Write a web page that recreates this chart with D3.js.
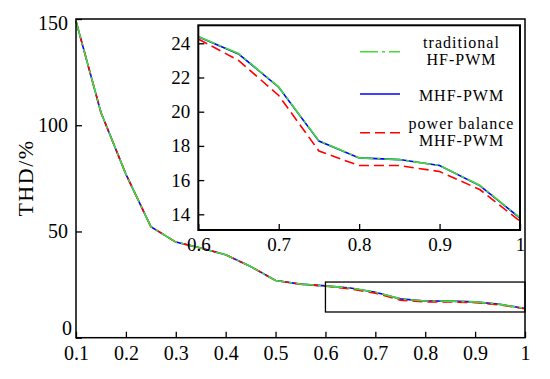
<!DOCTYPE html>
<html>
<head>
<meta charset="utf-8">
<script src="https://cdn.jsdelivr.net/npm/d3@7"></script>
<style>
  html, body { margin: 0; padding: 0; background: #fff; }
  svg { display: block; }
  svg text { font-family: "Liberation Serif", "Times New Roman", serif; }
</style>
</head>
<body>
<svg id="chart" width="550" height="379"></svg>
<script>
// ---- data ----
const modulationIndex = [0.1, 0.15, 0.2, 0.25, 0.3, 0.35, 0.4, 0.45, 0.5, 0.55, 0.6, 0.65, 0.7, 0.75, 0.8, 0.85, 0.9, 0.95, 1.0];
const traditionalHF = [149, 106, 77, 52.3, 45, 42.2, 39, 33.5, 26.9, 25.2, 24.4, 23.4, 21.45, 18.3, 17.3, 17.2, 16.85, 15.7, 13.8];
const mhf = [149, 106, 77, 52.3, 45, 42.2, 39, 33.5, 26.9, 25.2, 24.38, 23.38, 21.43, 18.28, 17.3, 17.2, 16.85, 15.68, 13.78];
const powerBalance = [149, 106, 77, 52.3, 45, 42.2, 39, 33.5, 26.9, 25.2, 24.25, 23.0, 20.95, 17.7, 16.85, 16.85, 16.5, 15.45, 13.6];
const mainXTicks = [0.1, 0.2, 0.3, 0.4, 0.5, 0.6, 0.7, 0.8, 0.9, 1];
const mainYTicks = [0, 50, 100, 150];
const insetXTicks = [0.6, 0.7, 0.8, 0.9, 1];
const insetYTicks = [14, 16, 18, 20, 22, 24];
const zoomBox = { x0: 0.6, x1: 1, y0: 12.1, y1: 26.2 };
const seriesNames = [["traditional", "HF-PWM"], ["MHF-PWM"], ["power balance", "MHF-PWM"]];

const FONT = '"Liberation Serif", "Times New Roman", serif';
const series = [
  { name: "mhf", values: mhf, color: "#0000ff", dash: null },
  { name: "pb", values: powerBalance, color: "#ff0000", dash: "10,5" },
  { name: "trad", values: traditionalHF, color: "#44dd33", dash: "18,4,3,4" }
];

const svg = d3.select("#chart");
const fmt = d => d === 1 ? "1" : d3.format(".1f")(d);

function styleAxis(a, size) {
  a.attr("font-family", null);
  a.select(".domain").remove();
  a.selectAll("line").attr("stroke", "#000").attr("stroke-width", 1.3);
  a.selectAll("text").attr("fill", "#000")
    .style("font-family", FONT).style("font-size", size + "px");
}

// ---- main plot ----
const x = d3.scaleLinear([0.1, 1], [76, 525]);
const y = d3.scaleLinear([0, 150], [337.7, 19]);

const main = svg.append("g");
series.forEach(s => {
  const line = d3.line().x((d, i) => x(modulationIndex[i])).y(d => y(d));
  main.append("path").datum(s.values)
    .attr("d", line).attr("fill", "none")
    .attr("stroke", s.color).attr("stroke-width", 1.6)
    .attr("stroke-dasharray", s.dash);
});

main.append("rect").attr("x", x(0.1)).attr("y", y(150))
  .attr("width", x(1) - x(0.1)).attr("height", y(0) - y(150))
  .attr("fill", "none").attr("stroke", "#000").attr("stroke-width", 1.5);

const xAxis = main.append("g").attr("transform", `translate(0,${y(0)})`)
  .call(d3.axisBottom(x).tickValues(mainXTicks).tickFormat(fmt).tickSize(-6).tickPadding(8));
const yAxis = main.append("g").attr("transform", `translate(${x(0.1)},0)`)
  .call(d3.axisLeft(y).tickValues(mainYTicks).tickFormat(d3.format("d")).tickSize(-6).tickPadding(8));
styleAxis(xAxis, 20);
styleAxis(yAxis, 20);
yAxis.selectAll(".tick").filter(d => d === 0).select("text").attr("transform", "translate(4,-10)");
yAxis.selectAll(".tick").filter(d => d === 150).select("text").attr("transform", "translate(0,4)");

svg.append("text").attr("transform", "translate(33,178) rotate(-90)")
  .attr("text-anchor", "middle").style("font-family", FONT).style("font-size", "22px")
  .style("letter-spacing", "1.5px").text("THD/%");

main.append("rect").attr("x", x(zoomBox.x0)).attr("y", y(zoomBox.y1))
  .attr("width", x(zoomBox.x1) - x(zoomBox.x0)).attr("height", y(zoomBox.y0) - y(zoomBox.y1))
  .attr("fill", "none").attr("stroke", "#000").attr("stroke-width", 1.3);

// ---- inset ----
const xi = d3.scaleLinear([0.6, 1], [198.3, 520]);
const yi = d3.scaleLinear([14, 24], [214.3, 43.3]);
const insetTop = 25.3, insetBottom = 230;
const inset = svg.append("g");
inset.append("rect").attr("x", xi(0.6)).attr("y", insetTop)
  .attr("width", xi(1) - xi(0.6)).attr("height", insetBottom - insetTop)
  .attr("fill", "#fff");

const idx = modulationIndex.map((v, i) => i).filter(i => modulationIndex[i] >= 0.6 - 1e-9);
series.forEach(s => {
  const line = d3.line().x(i => xi(modulationIndex[i])).y(i => yi(s.values[i]));
  inset.append("path").datum(idx)
    .attr("d", line).attr("fill", "none")
    .attr("stroke", s.color).attr("stroke-width", 1.6)
    .attr("stroke-dasharray", s.dash);
});

inset.append("rect").attr("x", xi(0.6)).attr("y", insetTop)
  .attr("width", xi(1) - xi(0.6)).attr("height", insetBottom - insetTop)
  .attr("fill", "none").attr("stroke", "#000").attr("stroke-width", 2);

const xiAxis = inset.append("g").attr("transform", `translate(0,${insetBottom})`)
  .call(d3.axisBottom(xi).tickValues(insetXTicks).tickFormat(fmt).tickSize(-6).tickPadding(8));
const yiAxis = inset.append("g").attr("transform", `translate(${xi(0.6)},0)`)
  .call(d3.axisLeft(yi).tickValues(insetYTicks).tickFormat(d3.format("d")).tickSize(-6).tickPadding(8));
styleAxis(xiAxis, 19);
styleAxis(yiAxis, 19);

// legend
const legendOrder = [series[2], series[0], series[1]];
const legendY = [51.7, 94, 132.7];
const legend = inset.append("g");
legendOrder.forEach((s, k) => {
  legend.append("line").attr("x1", 360).attr("x2", 400)
    .attr("y1", legendY[k]).attr("y2", legendY[k])
    .attr("stroke", s.color).attr("stroke-width", 1.6)
    .attr("stroke-dasharray", s.dash);
  const lines = seriesNames[k];
  const t = legend.append("text").attr("text-anchor", "middle")
    .style("font-family", FONT).style("font-size", "16px").style("letter-spacing", "1px")
    .attr("fill", "#000");
  const y0 = lines.length === 1 ? legendY[k] + 1.7 : legendY[k] - 9;
  lines.forEach((ln, j) => {
    t.append("tspan").attr("x", 461.5).attr("y", y0 + j * 17).attr("dy", "0.35em").text(ln);
  });
});
</script>
</body>
</html>
